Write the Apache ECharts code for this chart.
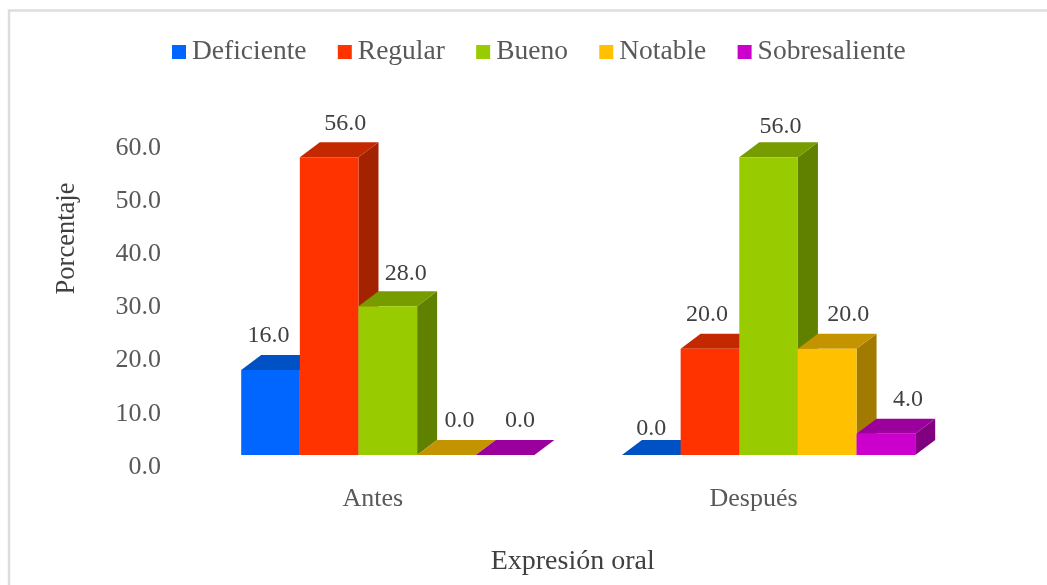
<!DOCTYPE html>
<html>
<head>
<meta charset="utf-8">
<style>html,body{margin:0;padding:0;background:#fff}#c{width:1047px;height:585px}</style>
<script src="https://cdn.jsdelivr.net/npm/echarts@6/dist/echarts.min.js"></script>
</head>
<body>
<div id="c"></div>
<script>
const categories = ['Antes', 'Después'];
const deficiente = [16.0, 0.0];
const regular = [56.0, 20.0];
const bueno = [28.0, 56.0];
const notable = [0.0, 20.0];
const sobresaliente = [0.0, 4.0];
const seriesNames = ['Deficiente', 'Regular', 'Bueno', 'Notable', 'Sobresaliente'];
const seriesValues = [deficiente, regular, bueno, notable, sobresaliente];
const frontColors = ['#0066FF', '#FF3300', '#99CC00', '#FFC000', '#CC00CC'];
const topColors = ['#0052C4', '#C42800', '#769C00', '#C49300', '#9C009C'];
const sideColors = ['#003F99', '#A32200', '#608000', '#A37A00', '#800080'];
// label nudges in pixels [dx, dy] relative to bar centre / default height
const labelNudges = [
  [[-2, 0], [0, 8]],
  [[16, 0], [-3, 0]],
  [[18, 2], [12, 3]],
  [[13, 0], [21, 0]],
  [[15, 0], [22, 0]]
];
const depthX = 20, depthY = 15;
const barShare = 0.154;

const chart = echarts.init(document.getElementById('c'));
const font = '"Liberation Serif"';
chart.setOption({
  animation: false,
  backgroundColor: '#fff',
  graphic: [{
    type: 'rect', silent: true, z: -1,
    shape: {x: 9, y: 10.5, width: 1100, height: 700},
    style: {fill: 'none', stroke: '#DDDDDD', lineWidth: 2.5}
  }],
  legend: {
    top: 33, left: 167, icon: 'rect', itemWidth: 14, itemHeight: 14, itemGap: 31.3,
    textStyle: {fontFamily: font, fontSize: 27.5, color: '#595959', padding: [0, 0, 0, 1]},
    data: seriesNames
  },
  grid: {left: 197.4, right: 88, top: 136, bottom: 130},
  xAxis: {
    type: 'category', data: categories,
    axisLine: {show: false}, axisTick: {show: false},
    axisLabel: {fontFamily: font, fontSize: 26, color: '#595959', margin: 31, padding: [0, 30, 0, 0]},
    name: 'Expresión oral', nameLocation: 'middle', nameGap: 93,
    nameTextStyle: {fontFamily: font, fontSize: 28, color: '#404040', padding: [0, 11, 0, 0]}
  },
  yAxis: {
    type: 'value', min: 0, max: 60, interval: 10,
    axisLine: {show: false}, axisTick: {show: false}, splitLine: {show: false},
    axisLabel: {fontFamily: font, fontSize: 26, color: '#595959', margin: 36.5, verticalAlign: 'top', lineHeight: 24,
      formatter: v => v.toFixed(1)},
    name: 'Porcentaje', nameLocation: 'middle', nameGap: 117,
    nameTextStyle: {fontFamily: font, fontSize: 26.5, color: '#404040', padding: [0, 0, 0, 114]}
  },
  series: seriesNames.map((name, s) => ({
    name, type: 'custom', coordinateSystem: 'cartesian2d',
    itemStyle: {color: frontColors[s]},
    data: seriesValues[s].map((v, c) => [c, v]),
    encode: {x: 0, y: 1},
    z: 2 + s,
    renderItem(params, api) {
      const c = api.value(0), v = api.value(1);
      const base = api.coord([c, 0]);
      const top = api.coord([c, v]);
      const w = api.size([1, 0])[0] * barShare;
      const x0 = base[0] + (s - 2.5) * w, x1 = x0 + w;
      const y0 = base[1], y1 = top[1];
      const n = labelNudges[s][c];
      return {
        type: 'group',
        children: [
          {type: 'polygon', shape: {points: [[x1, y0], [x1 + depthX, y0 - depthY], [x1 + depthX, y1 - depthY], [x1, y1]]}, style: {fill: sideColors[s]}},
          {type: 'polygon', shape: {points: [[x0, y1], [x0 + depthX, y1 - depthY], [x1 + depthX, y1 - depthY], [x1, y1]]}, style: {fill: topColors[s]}},
          {type: 'rect', shape: {x: x0, y: y1, width: w, height: y0 - y1}, style: {fill: frontColors[s]}},
          {type: 'text', x: (x0 + x1) / 2 + n[0], y: y1 - 34 + n[1],
           style: {text: v.toFixed(1), fill: '#404040', font: '24px ' + font, align: 'center', verticalAlign: 'middle'}}
        ]
      };
    }
  }))
});
</script>
</body>
</html>
